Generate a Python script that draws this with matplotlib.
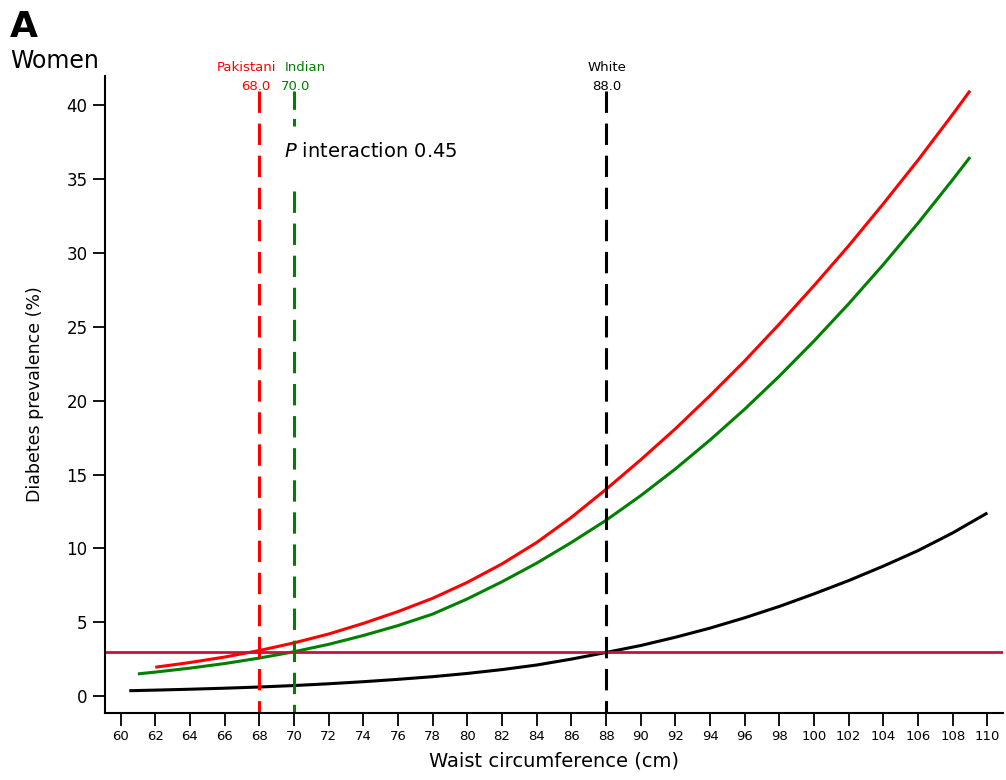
import numpy as np
import matplotlib.pyplot as plt

# waist circumference (cm) and diabetes prevalence (%)
x_pak = [62, 64, 66, 68, 70, 72, 74, 76, 78, 80, 82, 84, 86, 88, 90, 92, 94,
         96, 98, 100, 102, 104, 106, 108, 109]
y_pak = [1.95, 2.27, 2.64, 3.08, 3.6, 4.2, 4.92, 5.72, 6.62, 7.7, 8.95,
         10.4, 12.1, 14.0, 16.0, 18.1, 20.35, 22.7, 25.2, 27.8, 30.5, 33.35,
         36.3, 39.4, 41.0]

x_ind = [61, 62, 64, 66, 68, 70, 72, 74, 76, 78, 80, 82, 84, 86, 88, 90, 92,
         94, 96, 98, 100, 102, 104, 106, 108, 109]
y_ind = [1.5, 1.62, 1.89, 2.2, 2.57, 3.0, 3.5, 4.1, 4.77, 5.55, 6.58, 7.74,
         9.0, 10.4, 11.9, 13.57, 15.38, 17.34, 19.43, 21.67, 24.05, 26.57,
         29.23, 32.03, 34.98, 36.5]

x_wht = [60.5, 62, 64, 66, 68, 70, 72, 74, 76, 78, 80, 82, 84, 86, 88, 90,
         92, 94, 96, 98, 100, 102, 104, 106, 108, 110]
y_wht = [0.36, 0.4, 0.46, 0.53, 0.61, 0.71, 0.83, 0.97, 1.13, 1.31, 1.53,
         1.79, 2.1, 2.5, 2.95, 3.42, 3.98, 4.6, 5.3, 6.07, 6.92, 7.82, 8.8,
         9.85, 11.05, 12.4]

# cut-offs where each group reaches the 3% prevalence of White women at 88 cm
cut_names = ['Pakistani', 'Indian', 'White']
cut_vals = [68.0, 70.0, 88.0]
cut_cols = ['#ff0000', '#008000', '#000000']
ref_prev = 3.0

fig = plt.figure(figsize=(10.06, 7.8), dpi=100)
ax = fig.add_axes([0.1044, 0.0859, 0.8926, 0.8167])

kw = dict(lw=2.2, solid_joinstyle='round', solid_capstyle='butt')
ax.plot(x_pak, y_pak, color='#ff0000', **kw)
ax.plot(x_ind, y_ind, color='#008000', **kw)
ax.plot(x_wht, y_wht, color='#000000', **kw)

ax.axhline(ref_prev, color='#c8103c', lw=2)

top = 40.95
for name, v, c in zip(cut_names, cut_vals, cut_cols):
    if name == 'Indian':
        # gap in the line where the P value text sits
        ax.plot([v, v], [top, 38.6], color=c, lw=2.2, dashes=(6, 3))
        ax.plot([v, v], [34.2, -1.15], color=c, lw=2.2, dashes=(7, 3.5))
    else:
        ax.plot([v, v], [top, -1.15], color=c, lw=2.2, dashes=(7, 3.5))

ax.text(68.95, 42.55, 'Pakistani', color='#ff0000', fontsize=9.5, ha='right',
        va='center', clip_on=False)
ax.text(68.65, 41.3, '68.0', color='#ff0000', fontsize=9.5, ha='right',
        va='center', clip_on=False)
ax.text(69.45, 42.55, 'Indian', color='#008000', fontsize=9.5, ha='left',
        va='center', clip_on=False)
ax.text(69.25, 41.3, '70.0', color='#008000', fontsize=9.5, ha='left',
        va='center', clip_on=False)
ax.text(88.05, 42.55, 'White', color='#000000', fontsize=9.5, ha='center',
        va='center', clip_on=False)
ax.text(88.05, 41.3, '88.0', color='#000000', fontsize=9.5, ha='center',
        va='center', clip_on=False)

ax.text(69.4, 36.9, r'$P$ interaction 0.45', fontsize=14, va='center')

ax.set_xlim(59.1, 110.9)
ax.set_ylim(-1.15, 42.0)
ax.set_xticks(np.arange(60, 111, 2))
ax.set_yticks(np.arange(0, 41, 5))
ax.tick_params(axis='x', labelsize=9.5, length=9, width=1.3, direction='out')
ax.tick_params(axis='y', labelsize=12, length=9, width=1.3, direction='out')
for s in ['top', 'right']:
    ax.spines[s].set_visible(False)
for s in ['left', 'bottom']:
    ax.spines[s].set_linewidth(1.5)

ax.set_xlabel('Waist circumference (cm)', fontsize=14, labelpad=6)
ax.set_ylabel('Diabetes prevalence (%)', fontsize=12.5, labelpad=16)

fig.text(0.01, 0.965, 'A', fontsize=26, fontweight='heavy', va='center')
fig.text(0.01, 0.922, 'Women', fontsize=17, va='center')

fig.savefig('out.png', dpi=100)
